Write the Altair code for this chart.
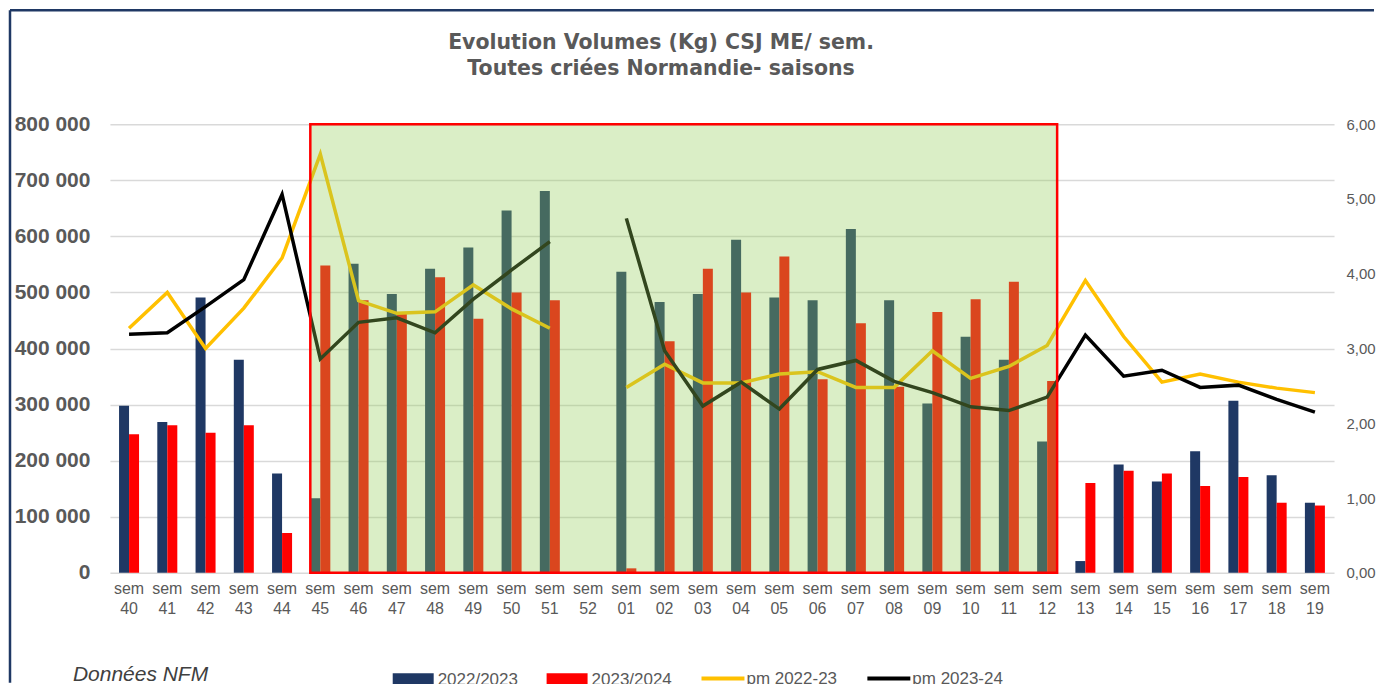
import altair as alt
import pandas as pd

# ---------------- data ----------------
weeks = ["40", "41", "42", "43", "44", "45", "46", "47", "48", "49", "50", "51", "52",
         "01", "02", "03", "04", "05", "06", "07", "08", "09", "10", "11", "12",
         "13", "14", "15", "16", "17", "18", "19"]

vol_2022_2023 = [298000, 269000, 491000, 380000, 177000, 133000, 551000, 497000, 542000,
                 580000, 646000, 681000, None,
                 537000, 483000, 497000, 594000, 491000, 486000, 613000, 486000, 302000,
                 421000, 380000, 234000, 21000, 193000, 163000, 217000, 307000, 174000, 125000]

vol_2023_2024 = [247000, 263000, 250000, 263000, 71000, 548000, 486000, 465000, 527000,
                 453000, 500000, 486000, None,
                 8000, 413000, 542000, 500000, 564000, 345000, 445000, 332000, 465000,
                 488000, 519000, 342000, 160000, 182000, 177000, 155000, 171000, 125000, 120000]

pm_2022_23 = [3.27, 3.75, 3.00, 3.54, 4.21, 5.60, 3.64, 3.47, 3.49, 3.85, 3.53, 3.27, None,
              2.48, 2.79, 2.54, 2.54, 2.66, 2.69, 2.48, 2.48, 2.97, 2.60, 2.76, 3.04,
              3.91, 3.16, 2.55, 2.66, 2.55, 2.47, 2.41]

pm_2023_24 = [3.19, 3.21, 3.56, 3.92, 5.06, 2.86, 3.35, 3.41, 3.21, 3.66, 4.05, 4.43, None,
              4.74, 2.97, 2.23, 2.55, 2.19, 2.72, 2.84, 2.56, 2.41, 2.22, 2.17, 2.35,
              3.18, 2.63, 2.71, 2.48, 2.51, 2.32, 2.15]

bar_series = ["2022/2023", "2023/2024"]
bar_colors = ["#1f3864", "#ff0000"]
line_series = ["pm 2022-23", "pm 2023-24"]
line_colors = ["#ffc000", "#000000"]
highlight_start = "45"
highlight_end = "12"
left_ticks = [0, 100000, 200000, 300000, 400000, 500000, 600000, 700000, 800000]
right_ticks = [0, 1, 2, 3, 4, 5, 6]
title_lines = ["Evolution Volumes (Kg) CSJ ME/ sem.", "Toutes criées Normandie- saisons"]
source_note = "Données NFM"

# ---------------- tables ----------------
bar_rows = []
for i, w in enumerate(weeks):
    for s, vals in zip(bar_series, [vol_2022_2023, vol_2023_2024]):
        if vals[i] is not None:
            bar_rows.append({"week": w, "series": s, "value": vals[i]})
bars_df = pd.DataFrame(bar_rows)

line_rows = []
for i, w in enumerate(weeks):
    for s, vals in zip(line_series, [pm_2022_23, pm_2023_24]):
        if vals[i] is not None:
            line_rows.append({"week": w, "series": s, "value": vals[i],
                              "segment": "a" if i < 12 else "b"})
lines_df = pd.DataFrame(line_rows)

hl_df = pd.DataFrame([{"start": highlight_start, "end": highlight_end}])
one_df = pd.DataFrame([{"t": source_note}])

W, H = 1225, 449
GRAY = "#595959"
FONT = "Liberation Sans"

x_axis = alt.Axis(title=None, labelExpr="['sem', datum.label]", labelAngle=0, ticks=False,
                  domain=False, labelFontSize=16, labelColor=GRAY, labelFont=FONT,
                  labelPadding=8, labelLineHeight=20)
x_scale = alt.Scale(domain=weeks, paddingInner=0.477, paddingOuter=0.2385)

bars = alt.Chart(bars_df).mark_bar().encode(
    x=alt.X("week:N", scale=x_scale, axis=x_axis),
    xOffset=alt.XOffset("series:N", sort=bar_series, scale=alt.Scale(paddingInner=0, paddingOuter=0)),
    y=alt.Y("value:Q", scale=alt.Scale(domain=[0, 800000], nice=False),
            axis=alt.Axis(title=None, values=left_ticks, ticks=False, domain=False,
                          labelExpr="replace(format(datum.value, ','), ',', ' ')",
                          labelFontSize=21, labelFontWeight="bold", labelColor=GRAY,
                          labelFont=FONT, labelPadding=20, grid=True,
                          gridColor="#d9d9d9", gridWidth=1.5)),
    color=alt.Color("series:N", sort=bar_series,
                    scale=alt.Scale(domain=bar_series, range=bar_colors),
                    legend=alt.Legend(orient="none", legendX=283, legendY=535,
                                      direction="horizontal", title=None,
                                      symbolType="M-1,-0.3H1V0.3H-1Z", symbolSize=1681,
                                      symbolStrokeWidth=0, labelFontSize=17,
                                      labelColor=GRAY, labelFont=FONT, labelOffset=4,
                                      columnPadding=28)),
)

lines = alt.Chart(lines_df).mark_line(strokeWidth=3.5).encode(
    x=alt.X("week:N"),
    y=alt.Y("value:Q", scale=alt.Scale(domain=[0, 6], nice=False),
            axis=alt.Axis(orient="right", title=None, values=right_ticks, grid=False,
                          ticks=False, domain=False,
                          labelExpr="replace(format(datum.value, '.2f'), '.', ',')",
                          labelFontSize=15, labelColor=GRAY, labelFont=FONT,
                          labelPadding=12)),
    stroke=alt.Stroke("series:N", sort=line_series,
                      scale=alt.Scale(domain=line_series, range=line_colors),
                      legend=alt.Legend(orient="none", legendX=590, legendY=531,
                                        direction="horizontal", title=None,
                                        symbolType="stroke", symbolSize=1849,
                                        symbolStrokeWidth=4, labelFontSize=17,
                                        labelColor=GRAY, labelFont=FONT, labelOffset=0,
                                        columnPadding=22)),
    detail="segment:N",
)

highlight = alt.Chart(hl_df).mark_rect(fill="#93cd58", fillOpacity=0.34, stroke="#ff0000",
                                       strokeWidth=2.5).encode(
    x=alt.X("start:N", bandPosition=0),
    x2=alt.X2("end:N", bandPosition=1),
    y=alt.value(0),
    y2=alt.value(H),
)

note = alt.Chart(one_df).mark_text(align="left", baseline="alphabetic", fontStyle="italic",
                                   fontSize=21, font=FONT, color="#404040").encode(
    text="t:N", x=alt.value(-37), y=alt.value(557))

frame_left = alt.Chart(one_df).mark_rule(color="#1f3864", strokeWidth=2.5).encode(
    x=alt.value(-100), y=alt.value(-114), y2=alt.value(H + 110))
frame_top = alt.Chart(one_df).mark_rule(color="#1f3864", strokeWidth=2.5).encode(
    y=alt.value(-114), x=alt.value(-100), x2=alt.value(W + 40))

chart = alt.layer(bars, lines, highlight, note, frame_left, frame_top).resolve_scale(
    y="independent"
).properties(
    width=W, height=H,
    title=alt.TitleParams(text=title_lines, font="DejaVu Sans", fontSize=20.5, fontWeight="bold",
                          color=GRAY, anchor="middle", dx=-61, offset=-71, lineHeight=26),
    padding=0,
).configure_view(stroke=None)

chart.save("out.html", embed_options={"renderer": "svg", "actions": False})
